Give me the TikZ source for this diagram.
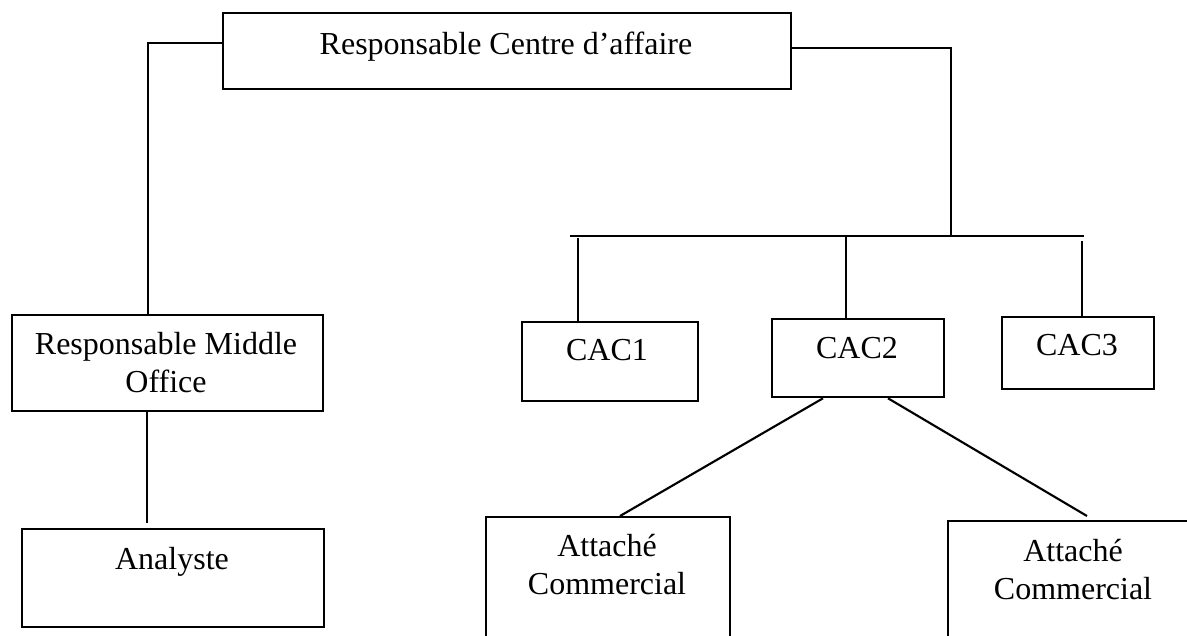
\documentclass[tikz,border=0pt]{standalone}
\usepackage{fontspec}
\setmainfont{Liberation Serif}
\usetikzlibrary{calc}

\begin{document}
\begin{tikzpicture}[x=0.375pt,y=-0.375pt,line width=0.8pt,
	boite/.style={draw,line width=0.8pt,inner sep=0pt,anchor=north west},
	titre/.style={inner sep=0pt,align=center,anchor=north,font=\fontsize{12}{14.25}\selectfont}]
	\clip (0,0) rectangle (1187,635);

	\node[boite,minimum width=213pt,minimum height=28.5pt] (resp) at (222,12) {};
	\node[boite,minimum width=116.6pt,minimum height=36pt] (mid) at (11,314) {};
	\node[boite,minimum width=113.3pt,minimum height=36.8pt] (ana) at (21,528) {};
	\node[boite,minimum width=66pt,minimum height=29.6pt] (cac1) at (521,321) {};
	\node[boite,minimum width=64.5pt,minimum height=29.3pt] (cac2) at (771,318) {};
	\node[boite,minimum width=57pt,minimum height=27pt] (cac3) at (1001,316) {};
	\node[boite,minimum width=91.5pt,minimum height=69pt] (att1) at (485,516) {};
	\node[boite,minimum width=110pt,minimum height=67.5pt] (att2) at (947,520) {};

	\node[titre] (tresp) at (506,31) {Responsable Centre d’affaire};
	\node[titre] (tmid) at (166,331) {Responsable Middle\\Office};
	\node[titre] (tana) at (172,546) {Analyste};
	\node[titre] (tcac1) at (607,338) {CAC1};
	\node[titre] (tcac2) at (857,336) {CAC2};
	\node[titre] (tcac3) at (1077,333) {CAC3};
	\node[titre] (tatt1) at (607,533) {Attaché\\Commercial};
	\node[titre] (tatt2) at (1073,538) {Attaché\\Commercial};

	\coordinate (barg) at (570,236);
	\coordinate (bard) at (1084,236);

	\draw (resp.west |- 0,43) -- (148,43) -- (mid.north -| 148,0);
	\draw (mid.south -| 147,0) -- ($(ana.north -| 147,0)+(0,-5)$);
	\draw (resp.east |- 0,48) -- (951,48) -- (951,237);
	\draw (barg) -- (bard);
	\draw (578,238) -- (cac1.north -| 578,0);
	\draw (846,236) -- (cac2.north -| 846,0);
	\draw (1082,241) -- (cac3.north -| 1082,0);
	\draw (cac2.south -| 823,0) -- (att1.north -| 620,0);
	\draw (cac2.south -| 888,0) -- ($(att2.north -| 1087,0)+(0,-4)$);

\end{tikzpicture}
\end{document}
